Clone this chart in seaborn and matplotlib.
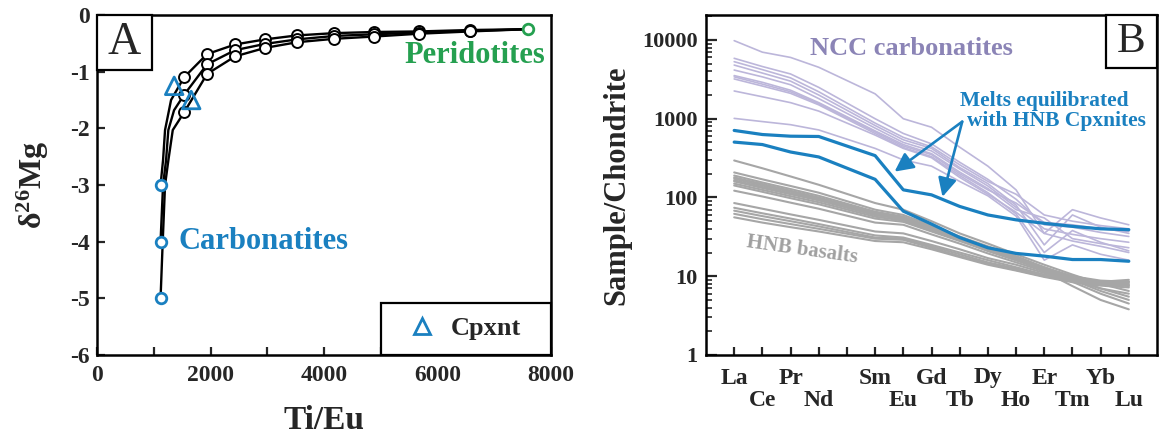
import numpy as np
import pandas as pd
import matplotlib
matplotlib.use("Agg")
import matplotlib.pyplot as plt
from matplotlib.patches import Rectangle
from matplotlib.lines import Line2D
from matplotlib.ticker import LogLocator, NullFormatter
import seaborn as sns

sns.set_theme(style="ticks")
plt.rcParams["font.family"] = ["Liberation Serif", "DejaVu Serif"]
plt.rcParams["font.weight"] = "bold"
plt.rcParams["axes.unicode_minus"] = False
plt.rcParams["mathtext.fontset"] = "custom"
plt.rcParams["mathtext.rm"] = "Liberation Serif:bold"
plt.rcParams["mathtext.bf"] = "Liberation Serif:bold"
plt.rcParams["mathtext.it"] = "Liberation Serif:bold"

BLUE = "#1a80c0"
GREEN = "#25a050"
LAVENDER = "#bcb6da"
LAVENDER_TXT = "#8b84b6"
GREY = "#a6a6a6"

# ---------------- Panel A: Mg isotope mixing curves ----------------
ti_eu_nodes = [1120, 1534, 1940, 2434, 2963, 3527, 4180, 4885, 5679, 6578, 7600]
mg_curve_m3 = [-3.0, -1.10, -0.69, -0.52, -0.43, -0.36, -0.32, -0.30, -0.29, -0.265, -0.25]
mg_curve_m4 = [-4.0, -1.41, -0.87, -0.62, -0.51, -0.43, -0.37, -0.34, -0.31, -0.28, -0.25]
mg_curve_m5 = [-5.0, -1.72, -1.04, -0.73, -0.58, -0.48, -0.42, -0.38, -0.33, -0.29, -0.25]

# unmarked vertices along the steep carbonatite end of each curve
bend_x_m3 = [1164, 1199, 1305]
bend_y_m3 = [-2.56, -2.03, -1.50]
bend_x_m4 = [1164, 1217, 1257, 1358]
bend_y_m4 = [-3.00, -2.56, -2.03, -1.68]
bend_x_m5 = [1158, 1199, 1258, 1335]
bend_y_m5 = [-4.00, -3.00, -2.56, -2.03]

cpxnt_ti_eu = [1360, 1660]
cpxnt_mg = [-1.25, -1.50]

# ---------------- Panel B: chondrite-normalised REE ----------------
tick_elements = ["La", "Ce", "Pr", "Nd", "Pm", "Sm", "Eu", "Gd", "Tb",
                 "Dy", "Ho", "Er", "Tm", "Yb", "Lu"]
upper_row = ["La", "Pr", "Sm", "Gd", "Dy", "Er", "Yb"]
lower_row = ["Ce", "Nd", "Eu", "Tb", "Ho", "Tm", "Lu"]
ree = ["La", "Ce", "Pr", "Nd", "Sm", "Eu", "Gd", "Tb",
       "Dy", "Ho", "Er", "Tm", "Yb", "Lu"]

ncc_carbonatites = [
    [9800, 7000, 6000, 4500, 2070, 1000, 780, 435, 250, 125, 35, 70, 55, 45],
    [5850, 4600, 3700, 2500, 1000, 650, 480, 280, 170, 95, 45, 42, 36, 32],
    [5300, 4200, 3300, 2200, 880, 580, 440, 260, 160, 110, 60, 50, 44, 40],
    [4800, 3800, 3000, 2000, 820, 540, 420, 240, 150, 80, 25, 60, 42, 35],
    [4150, 3400, 2700, 1800, 760, 500, 390, 230, 140, 75, 40, 34, 30, 27],
    [3530, 2900, 2300, 1600, 700, 470, 360, 210, 130, 70, 55, 30, 26, 23],
    [3200, 2600, 2100, 1500, 650, 430, 330, 190, 115, 62, 20, 38, 27, 21],
    [3400, 2750, 2200, 1550, 680, 450, 350, 200, 125, 85, 48, 45, 40, 37],
    [2250, 1900, 1600, 1250, 620, 420, 320, 180, 110, 65, 35, 28, 24, 20],
    [1010, 920, 840, 720, 420, 300, 250, 160, 105, 58, 16, 25, 19, 16],
]

hnb_basalts = [
    [295, 235, 185, 145, 85, 70, 50, 35, 26, 19, 14, 10.5, 8, 6.5],
    [208, 170, 140, 115, 70, 60, 44, 32, 24, 18, 13, 9.5, 7, 5.5],
    [190, 155, 128, 105, 66, 57, 42, 31, 23, 17.5, 12.5, 8.5, 6, 4.5],
    [180, 148, 122, 100, 64, 56, 41, 30, 22.5, 17, 12.5, 9, 6.5, 5],
    [173, 142, 118, 97, 62, 55, 41, 30, 22, 16.5, 11.5, 7.5, 5, 3.8],
    [165, 136, 113, 93, 60, 53, 39.5, 29, 21.5, 16.2, 12, 8.8, 7, 6],
    [160, 132, 110, 92, 60, 54, 40, 30, 22, 17, 13, 10, 8.5, 8],
    [150, 125, 104, 87, 57, 51, 38, 29, 21, 16, 12.5, 10, 8.8, 8.5],
    [142, 118, 98, 82, 54, 49, 37, 28, 21, 16, 12, 9.5, 8.2, 7.5],
    [122, 103, 86, 72, 48, 45, 34, 26, 19.5, 15, 11.5, 9, 8, 7.8],
    [85, 72, 61, 52, 37, 35, 28, 22, 17, 14, 11, 9.2, 8.5, 8.3],
    [74, 63, 54, 46, 33, 31, 25, 20, 16, 13, 10.5, 9, 8.5, 9],
    [68, 58, 50, 43, 31, 30, 24, 19, 15, 12.5, 10, 8.6, 7.8, 7.6],
    [62, 53, 46, 40, 30, 29, 23, 18, 14.5, 12, 10, 8.8, 8.3, 8.6],
    [56, 48, 42, 37, 28, 27, 22, 17.5, 14, 11.8, 9.8, 8.4, 7.6, 7.2],
]

melts_cpxnite = [
    [710, 630, 600, 595, 340, 125, 108, 77, 60, 52, 47, 43, 40, 39],
    [505, 470, 378, 327, 170, 67, 46, 31, 23, 19.5, 18, 16.3, 16.3, 15.5],
]

# ---------------- figure ----------------
fig = plt.figure(figsize=(11.59, 4.36), dpi=100)
W, H = 1159, 436
axA = fig.add_axes([97 / W, 1 - 355 / H, 454 / W, 340 / H])
axB = fig.add_axes([706 / W, 1 - 355 / H, 451 / W, 340 / H])

for ax in (axA, axB):
    for s in ax.spines.values():
        s.set_linewidth(1.8)
        s.set_color("black")

# ---- Panel A ----
curve_frames = []
for name, ys, bx, by in [("-3", mg_curve_m3, bend_x_m3, bend_y_m3),
                         ("-4", mg_curve_m4, bend_x_m4, bend_y_m4),
                         ("-5", mg_curve_m5, bend_x_m5, bend_y_m5)]:
    xs = list(ti_eu_nodes) + list(bx)
    yv = list(ys) + list(by)
    curve_frames.append(pd.DataFrame({"ti_eu": xs, "mg": yv, "curve": name}))
curves = pd.concat(curve_frames, ignore_index=True).sort_values(["curve", "ti_eu"])
sns.lineplot(data=curves, x="ti_eu", y="mg", units="curve", estimator=None,
             sort=True, color="black", lw=1.7, ax=axA, legend=False, zorder=2)

nodes = pd.DataFrame({
    "ti_eu": ti_eu_nodes[1:-1] * 3,
    "mg": mg_curve_m3[1:-1] + mg_curve_m4[1:-1] + mg_curve_m5[1:-1],
})
sns.scatterplot(data=nodes, x="ti_eu", y="mg", marker="o", s=62,
                facecolor="white", edgecolor="black", linewidth=1.4,
                ax=axA, zorder=3)
carb = pd.DataFrame({"ti_eu": [ti_eu_nodes[0]] * 3,
                     "mg": [mg_curve_m3[0], mg_curve_m4[0], mg_curve_m5[0]]})
sns.scatterplot(data=carb, x="ti_eu", y="mg", marker="o", s=58,
                facecolor="white", edgecolor=BLUE, linewidth=2.0, ax=axA, zorder=4)
peri = pd.DataFrame({"ti_eu": [ti_eu_nodes[-1]], "mg": [mg_curve_m3[-1]]})
sns.scatterplot(data=peri, x="ti_eu", y="mg", marker="o", s=58,
                facecolor="white", edgecolor=GREEN, linewidth=2.0, ax=axA, zorder=4)
cpx = pd.DataFrame({"ti_eu": cpxnt_ti_eu, "mg": cpxnt_mg})
sns.scatterplot(data=cpx, x="ti_eu", y="mg", marker="^", s=160,
                facecolor="none", edgecolor=BLUE, linewidth=2.0, ax=axA, zorder=5)

axA.set_xlim(0, 8000)
axA.set_ylim(-6, 0)
axA.set_xticks([0, 2000, 4000, 6000, 8000])
axA.set_xticks([1000, 3000, 5000, 7000], minor=True)
axA.set_yticks([0, -1, -2, -3, -4, -5, -6])
axA.tick_params(which="both", direction="in", top=False, right=False,
                width=1.6, labelsize=17)
axA.tick_params(axis="x", which="both", length=6, pad=7)
axA.tick_params(axis="y", length=6, pad=5)
axA.set_xlabel("Ti/Eu", fontsize=24, fontweight="bold", labelpad=14)
axA.set_ylabel(r"$\mathbf{\delta^{26}Mg}$", fontsize=23, labelpad=14)

axA.text(1430, -4.0, "Carbonatites", color=BLUE, fontsize=22,
         fontweight="bold", va="center", ha="left")
axA.text(7900, -0.71, "Peridotites", color=GREEN, fontsize=22,
         fontweight="bold", va="center", ha="right")

axA.add_patch(Rectangle((0, 1 - 55 / 340), 55 / 454, 55 / 340,
                        transform=axA.transAxes, fill=True, fc="white",
                        ec="black", lw=1.6, zorder=6, clip_on=False))
axA.text(27.5 / 454, 1 - 27.5 / 340, "A", transform=axA.transAxes,
         fontsize=33, fontweight="normal", ha="center", va="center", zorder=7)

handle = Line2D([], [], ls="none", marker="^", ms=11, mfc="none",
                mec=BLUE, mew=2.0)
leg = axA.legend([handle], ["Cpxnt"], loc="lower left",
                 bbox_to_anchor=(284 / 454, 0, 170 / 454, 57 / 340),
                 mode="expand", borderaxespad=0, borderpad=0.55,
                 handlelength=2.0, handletextpad=0.1, fancybox=False,
                 framealpha=1, edgecolor="black",
                 prop={"size": 19, "weight": "bold"})
leg.get_frame().set_linewidth(1.6)

# ---- Panel B ----
pos_of = {el: i for i, el in enumerate(tick_elements)}
ree_pos = [pos_of[el] for el in ree]

def long_frame(rows, tag):
    recs = []
    for k, row in enumerate(rows):
        for p, v in zip(ree_pos, row):
            recs.append({"pos": p, "value": v, "sample": f"{tag}{k}"})
    return pd.DataFrame(recs)

axB.set_yscale("log")
sns.lineplot(data=long_frame(hnb_basalts, "h"), x="pos", y="value",
             units="sample", estimator=None, color=GREY, lw=1.5,
             ax=axB, legend=False, zorder=2)
sns.lineplot(data=long_frame(ncc_carbonatites, "n"), x="pos", y="value",
             units="sample", estimator=None, color=LAVENDER, lw=1.2,
             ax=axB, legend=False, zorder=2)
sns.lineplot(data=long_frame(melts_cpxnite, "m"), x="pos", y="value",
             units="sample", estimator=None, color=BLUE, lw=2.3,
             ax=axB, legend=False, zorder=3)

axB.set_xlim(-1, 15)
axB.set_ylim(1, 10 ** 4.317)
axB.set_yticks([1, 10, 100, 1000, 10000])
axB.set_yticklabels(["1", "10", "100", "1000", "10000"])
axB.yaxis.set_minor_locator(LogLocator(base=10, subs=np.arange(2, 10)))
axB.yaxis.set_minor_formatter(NullFormatter())

# element names in two staggered rows: upper row on major ticks (plus the
# unlabelled Pm tick), lower row on minor ticks with a larger label offset
upper_ticks = [pos_of[el] for el in upper_row] + [pos_of["Pm"]]
upper_labels = list(upper_row) + [""]
axB.set_xticks(upper_ticks)
axB.set_xticklabels(upper_labels)
axB.set_xticks([pos_of[el] for el in lower_row], minor=True)
axB.set_xticklabels(lower_row, minor=True)

axB.tick_params(which="both", direction="in", top=False, right=False, width=1.6)
axB.tick_params(axis="x", which="major", length=6, pad=9, labelsize=17)
axB.tick_params(axis="x", which="minor", length=6, width=1.6, pad=25,
                labelsize=17)
axB.tick_params(axis="y", which="major", length=8, pad=6, labelsize=16)
axB.tick_params(axis="y", which="minor", length=4, width=1.2)
axB.set_xlabel("")
axB.set_ylabel("Sample/Chondrite", fontsize=22, fontweight="bold", labelpad=8)

axB.text(6.3, 7900, "NCC carbonatites", color=LAVENDER_TXT, fontsize=19,
         fontweight="bold", ha="center", va="center")
axB.text(2.4, 21.5, "HNB basalts", color="#a0a0a0", fontsize=15,
         fontweight="bold", ha="center", va="center", rotation=-8)
axB.text(11.0, 10 ** ((355 - 101) / 78.75), "Melts equilibrated", color=BLUE,
         fontsize=15.5, fontweight="bold", ha="center", va="center")
axB.text(11.45, 10 ** ((355 - 121) / 78.75), "with HNB Cpxnites", color=BLUE,
         fontsize=15.5, fontweight="bold", ha="center", va="center")

arrow_origin = (8.09, 918)
arrow_tips = [(5.69, 213), (7.39, 102)]
for tip in arrow_tips:
    axB.annotate("", xy=tip, xytext=arrow_origin,
                 arrowprops=dict(arrowstyle="-|>", color=BLUE, lw=1.9,
                                 mutation_scale=28, shrinkA=0, shrinkB=0))

axB.add_patch(Rectangle((1 - 51 / 451, 1 - 53 / 340), 51 / 451, 53 / 340,
                        transform=axB.transAxes, fc="white", ec="black",
                        lw=1.6, zorder=6, clip_on=False))
axB.text(1 - 25.5 / 451, 1 - 26.5 / 340, "B", transform=axB.transAxes,
         fontsize=31, fontweight="normal", ha="center", va="center", zorder=7)

fig.savefig("out.png", dpi=100)
